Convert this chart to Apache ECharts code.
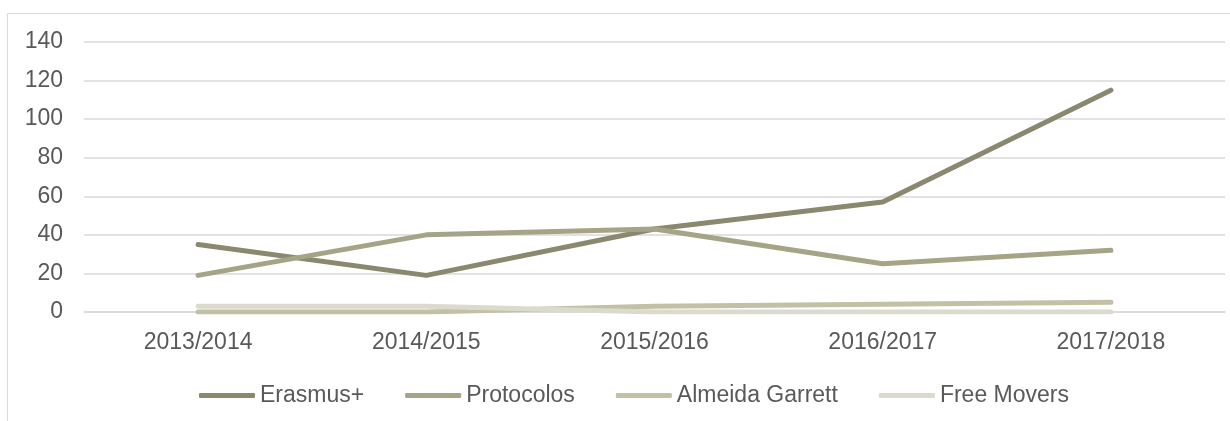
<!DOCTYPE html>
<html>
<head>
<meta charset="utf-8">
<script src="https://cdn.jsdelivr.net/npm/echarts@6/dist/echarts.min.js"></script>
<style>
html,body{margin:0;padding:0;background:#fff;}
#chart{width:1230px;height:421px;}
</style>
</head>
<body>
<div id="chart"></div>
<script>
const categories = ['2013/2014', '2014/2015', '2015/2016', '2016/2017', '2017/2018'];
const seriesNames = ['Erasmus+', 'Protocolos', 'Almeida Garrett', 'Free Movers'];
const erasmus = [35, 19, 43, 57, 115];
const protocolos = [19, 40, 43, 25, 32];
const almeidaGarrett = [0, 0, 3, 4, 5];
const freeMovers = [3, 3, 0, 0, 0];
const yTicks = [0, 20, 40, 60, 80, 100, 120, 140];

const colors = ['#8a886f', '#a6a486', '#c2c0a5', '#dcdacc'];
const dataSets = [erasmus, protocolos, almeidaGarrett, freeMovers];
const font = 'Liberation Sans, Arial, sans-serif';

const chart = echarts.init(document.getElementById('chart'), null, {renderer: 'canvas'});
chart.setOption({
  animation: false,
  backgroundColor: '#ffffff',
  graphic: [{
    type: 'rect', z: -10, silent: true,
    shape: {x: 7.5, y: 13.5, width: 1240, height: 440},
    style: {fill: 'none', stroke: '#d9d9d9', lineWidth: 1}
  }],
  grid: {left: 84, right: 5, top: 42, bottom: 109, containLabel: false},
  legend: {
    left: 199, top: 384,
    padding: 0,
    icon: 'roundRect',
    itemWidth: 56, itemHeight: 5,
    itemGap: 41,
    textStyle: {color: '#595959', fontSize: 23, fontFamily: font, padding: [0, 0, 0, 0]},
    data: seriesNames
  },
  xAxis: {
    type: 'category',
    data: categories,
    boundaryGap: true,
    axisLine: {show: true, lineStyle: {color: '#d9d9d9', width: 1.5}},
    axisTick: {show: false},
    axisLabel: {color: '#595959', fontSize: 23, fontFamily: font, margin: 19}
  },
  yAxis: {
    type: 'value',
    min: yTicks[0], max: yTicks[yTicks.length - 1], interval: 20,
    axisLine: {show: false},
    axisTick: {show: false},
    splitLine: {lineStyle: {color: '#d9d9d9', width: 1.5}},
    axisLabel: {color: '#595959', fontSize: 23, fontFamily: font, margin: 21}
  },
  series: seriesNames.map((name, i) => ({
    name: name,
    type: 'line',
    data: dataSets[i],
    symbol: 'none',
    color: colors[i],
    lineStyle: {width: 5, color: colors[i], cap: 'round', join: 'round'},
    z: 2 + i
  }))
});
</script>
</body>
</html>
